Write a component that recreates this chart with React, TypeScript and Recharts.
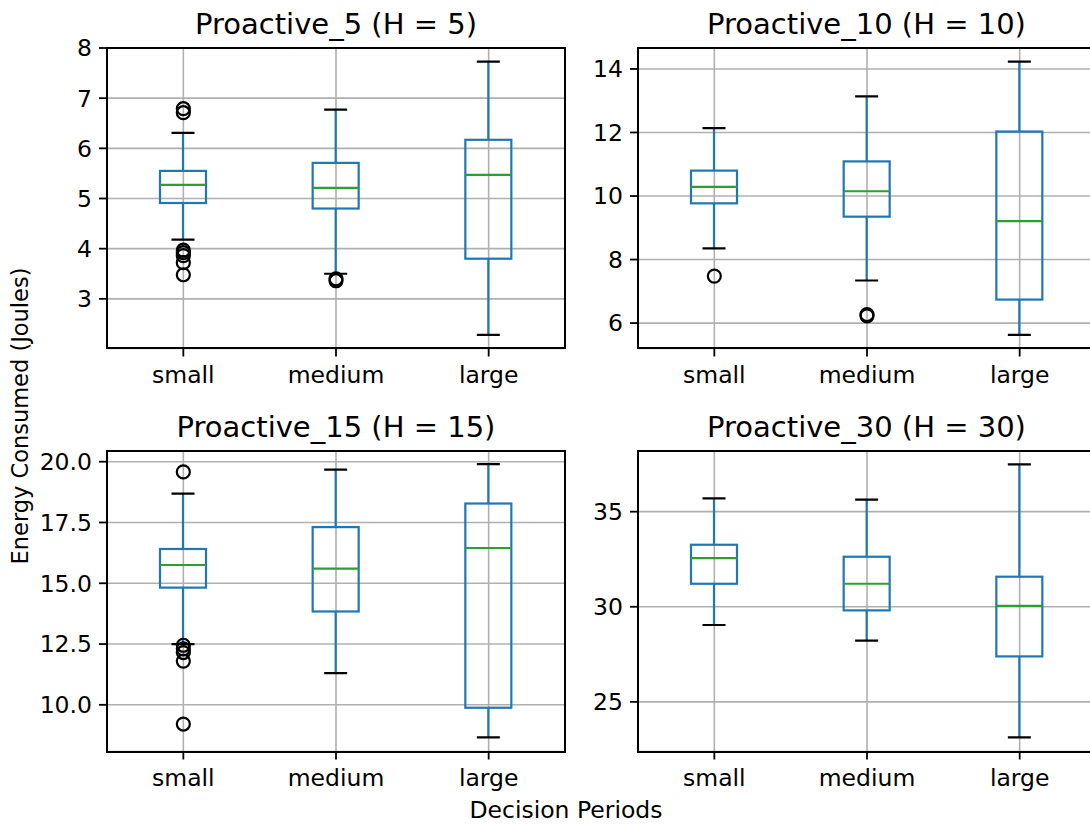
import React from "react";
import { ComposedChart, Bar, Scatter, XAxis, YAxis, CartesianGrid } from "recharts";

const categories = ["small", "medium", "large"];

// box stats per category: [lowWhisker, q1, median, q3, highWhisker]
const h5Stats = [
  [4.18, 4.91, 5.27, 5.55, 6.31],
  [3.5, 4.8, 5.21, 5.71, 6.77],
  [2.28, 3.8, 5.47, 6.17, 7.73],
];
const h5Fliers = [[6.79, 6.71, 3.97, 3.92, 3.86, 3.72, 3.48], [3.36, 3.4], []];
const h5Ticks = [3, 4, 5, 6, 7, 8];

const h10Stats = [
  [8.35, 9.77, 10.29, 10.8, 12.14],
  [7.34, 9.35, 10.15, 11.09, 13.14],
  [5.63, 6.74, 9.21, 12.03, 14.23],
];
const h10Fliers = [[7.48], [6.23, 6.27], []];
const h10Ticks = [6, 8, 10, 12, 14];

const h15Stats = [
  [12.5, 14.82, 15.75, 16.41, 18.69],
  [11.3, 13.84, 15.6, 17.31, 19.67],
  [8.66, 9.88, 16.45, 18.28, 19.9],
];
const h15Fliers = [[19.58, 12.45, 12.3, 12.15, 11.8, 9.21], [], []];
const h15Ticks = [10, 12.5, 15, 17.5, 20];

const h30Stats = [
  [29.04, 31.21, 32.56, 33.26, 35.7],
  [28.22, 29.81, 31.21, 32.63, 35.63],
  [23.13, 27.39, 30.05, 31.58, 37.49],
];
const h30Fliers: number[][] = [[], [], []];
const h30Ticks = [25, 30, 35];

const PLOT_W = 458;
const PLOT_H = 300.5;
const Y_AXIS_W = 80;
const X_AXIS_H = 60;
const TOP_PAD = 20;
const FONT = "DejaVu Sans";
const BLUE = "#1f77b4";
const GREEN = "#2ca02c";
const LW = 2.2;

function BoxShape(props: any) {
  const { x, y, width, height, payload } = props;
  const top = Math.min(y, y + height);
  const bot = Math.max(y, y + height);
  const [lo, hi] = payload.range;
  const py = (v: number) => bot - ((v - lo) / (hi - lo)) * (bot - top);
  const cx = x + width / 2;
  const cap = width / 4;
  const q1 = py(payload.q1);
  const q3 = py(payload.q3);
  const med = py(payload.med);
  return (
    <g>
      <line x1={cx} x2={cx} y1={bot} y2={q1} stroke={BLUE} strokeWidth={LW} />
      <line x1={cx} x2={cx} y1={q3} y2={top} stroke={BLUE} strokeWidth={LW} />
      <line x1={cx - cap} x2={cx + cap} y1={top} y2={top} stroke="#000" strokeWidth={LW} />
      <line x1={cx - cap} x2={cx + cap} y1={bot} y2={bot} stroke="#000" strokeWidth={LW} />
      <rect x={x} y={q3} width={width} height={q1 - q3} fill="none" stroke={BLUE} strokeWidth={LW} />
      <line x1={x} x2={x + width} y1={med} y2={med} stroke={GREEN} strokeWidth={LW} />
    </g>
  );
}

function Flier(props: any) {
  const { cx, cy } = props;
  return <circle cx={cx} cy={cy} r={6.5} fill="none" stroke="#000" strokeWidth={2.2} />;
}

interface PanelProps {
  title: string;
  stats: number[][];
  fliers: number[][];
  ticks: number[];
  domain: [number, number];
  left: number;
  top: number;
  decimals: number;
}

function Panel({ title, stats, fliers, ticks, domain, left, top, decimals }: PanelProps) {
  const rows = categories.map((cat, i) => ({
    cat,
    range: [stats[i][0], stats[i][4]],
    q1: stats[i][1],
    med: stats[i][2],
    q3: stats[i][3],
  }));
  const points = categories.flatMap((cat, i) => fliers[i].map((v) => ({ cat, v })));
  const tickStyle = { fontSize: 23.5, fill: "#000", fontFamily: FONT };

  return (
    <>
      <div
        style={{
          position: "absolute",
          left: left - 20,
          top: top - 41,
          width: PLOT_W + 40,
          textAlign: "center",
          fontSize: 29,
          lineHeight: "34px",
          fontFamily: FONT,
          color: "#000",
          whiteSpace: "nowrap",
        }}
      >
        {title}
      </div>
      <div style={{ position: "absolute", left: left - Y_AXIS_W, top: top - TOP_PAD }}>
        <ComposedChart
          width={Y_AXIS_W + PLOT_W}
          height={TOP_PAD + PLOT_H + X_AXIS_H}
          data={rows}
          margin={{ top: TOP_PAD, right: 0, bottom: 0, left: 0 }}
        >
          <CartesianGrid stroke="#b0b0b0" strokeWidth={1.6} />
          <XAxis
            dataKey="cat"
            type="category"
            allowDuplicatedCategory={false}
            height={X_AXIS_H}
            axisLine={false}
            tickSize={8}
            tickMargin={10}
            tickLine={{ stroke: "#000", strokeWidth: 1.8 }}
            tick={tickStyle}
            interval={0}
          />
          <YAxis
            type="number"
            domain={domain}
            ticks={ticks}
            width={Y_AXIS_W}
            axisLine={false}
            tickSize={8}
            tickMargin={7}
            tickLine={{ stroke: "#000", strokeWidth: 1.8 }}
            tick={tickStyle}
            interval={0}
            allowDataOverflow
            tickFormatter={(v: number) => v.toFixed(decimals)}
          />
          <Bar dataKey="range" barSize={46} shape={<BoxShape />} isAnimationActive={false} />
          {points.length > 0 && (
            <Scatter data={points} dataKey="v" shape={<Flier />} isAnimationActive={false} />
          )}
        </ComposedChart>
      </div>
      <div
        style={{
          position: "absolute",
          left: left - 1,
          top: top - 1,
          width: PLOT_W + 2,
          height: PLOT_H + 2,
          border: "2px solid #000",
          boxSizing: "border-box",
          pointerEvents: "none",
        }}
      />
    </>
  );
}

export default function App() {
  return (
    <div
      style={{
        position: "fixed",
        left: 0,
        top: 0,
        width: 1090,
        height: 824,
        overflow: "hidden",
        background: "#fff",
        fontFamily: FONT,
      }}
    >
      <Panel title="Proactive_5 (H = 5)" stats={h5Stats} fliers={h5Fliers} ticks={h5Ticks}
        domain={[2.01, 8.0]} left={107} top={47.5} decimals={0} />
      <Panel title="Proactive_10 (H = 10)" stats={h10Stats} fliers={h10Fliers} ticks={h10Ticks}
        domain={[5.2, 14.66]} left={637.5} top={47.5} decimals={0} />
      <Panel title="Proactive_15 (H = 15)" stats={h15Stats} fliers={h15Fliers} ticks={h15Ticks}
        domain={[8.08, 20.44]} left={107} top={451} decimals={1} />
      <Panel title="Proactive_30 (H = 30)" stats={h30Stats} fliers={h30Fliers} ticks={h30Ticks}
        domain={[22.39, 38.19]} left={637.5} top={451} decimals={0} />
      <div
        style={{
          position: "absolute",
          left: 20 - 200,
          top: 416 - 13,
          width: 400,
          height: 26,
          lineHeight: "26px",
          fontSize: 22.5,
          textAlign: "center",
          transform: "rotate(-90deg)",
          whiteSpace: "nowrap",
        }}
      >
        Energy Consumed (Joules)
      </div>
      <div
        style={{
          position: "absolute",
          left: 366,
          top: 797,
          width: 400,
          lineHeight: "26px",
          fontSize: 23.5,
          textAlign: "center",
          whiteSpace: "nowrap",
        }}
      >
        Decision Periods
      </div>
    </div>
  );
}
